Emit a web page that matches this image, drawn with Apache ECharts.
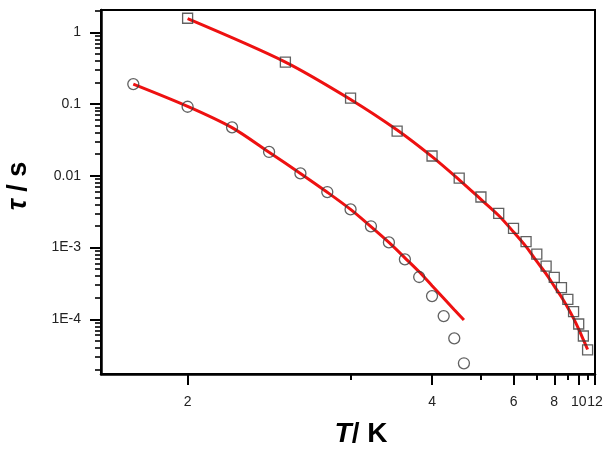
<!DOCTYPE html>
<html>
<head>
<meta charset="utf-8">
<script src="https://cdn.jsdelivr.net/npm/echarts@6/dist/echarts.min.js"></script>
<style>
html, body { margin: 0; padding: 0; background: #fff; }
#chart { width: 606px; height: 453px; }
</style>
</head>
<body>
<div id="chart"></div>
<script>
// 方块数据 (T / K, tau / s)
var squareT = [2, 2.5, 3, 3.5, 4, 4.5, 5, 5.5, 6, 6.5, 7, 7.5, 8, 8.5, 9, 9.5, 10, 10.5, 11];
var squareTau = [1.57, 0.385, 0.121, 0.042, 0.0189, 0.0093, 0.00507, 0.0030, 0.00185, 0.00121, 0.00081, 0.000553, 0.000385, 0.000276, 0.00019, 0.000128, 0.000086, 0.0000586, 0.0000374];
// 圆点数据
var circleT = [1.8, 2.0, 2.2, 2.4, 2.6, 2.8, 3.0, 3.2, 3.4, 3.6, 3.8, 4.0, 4.2, 4.4, 4.6];
var circleTau = [0.19, 0.0918, 0.0474, 0.0215, 0.0108, 0.00594, 0.00340, 0.00198, 0.00118, 0.000686, 0.000389, 0.000211, 0.000111, 0.0000543, 0.0000244];
// 拟合曲线
var fitSquareT = [2, 2.5, 3, 3.5, 4, 4.5, 5, 5.5, 6, 6.5, 7, 7.5, 8, 8.5, 9, 9.5, 10, 10.5, 11];
var fitSquareTau = [1.55, 0.385, 0.116, 0.0435, 0.0185, 0.0088, 0.0047, 0.0028, 0.00165, 0.00103, 0.00064, 0.00043, 0.00029, 0.000205, 0.000145, 0.000103, 0.000073, 0.000052, 0.000038];
var fitCircleT = [1.8, 2.0, 2.2, 2.4, 2.6, 2.8, 3.0, 3.2, 3.4, 3.6, 3.8, 4.0, 4.2, 4.4, 4.6];
var fitCircleTau = [0.19, 0.093, 0.047, 0.0213, 0.0108, 0.0059, 0.0034, 0.00196, 0.00118, 0.00072, 0.00046, 0.000294, 0.000197, 0.000136, 0.000098];

// 刻度
var xTicks = [2, 4, 6, 8, 10, 12];
var xMinorTicks = [3, 5, 7, 9, 11];
var yTicks = [1, 0.1, 0.01, 0.001, 0.0001];
var yTickLabels = ['1', '0.1', '0.01', '1E-3', '1E-4'];
var yMinorFactors = [2, 3, 4, 5, 6, 7, 8, 9];
var yMinorDecades = [0.00001, 0.0001, 0.001, 0.01, 0.1, 1];

// x 轴用 1/T, y 轴用 log10(tau)
var Tmin = 1.699, Tmax = 12;
var yLo = -4.762, yHi = 0.311;

function toXY(ts, vs) {
    return ts.map(function (t, i) { return [1 / t, Math.log10(vs[i])]; });
}
var yMinor = [];
yMinorDecades.forEach(function (d) {
    yMinorFactors.forEach(function (k) {
        var v = Math.log10(k * d);
        if (v >= yLo && v <= yHi) yMinor.push(v);
    });
});
var yMajor = yTicks.map(function (v) { return Math.round(Math.log10(v)); });

var font = 'Liberation Sans, Arial, sans-serif';

var myChart = echarts.init(document.getElementById('chart'));
var option = {
    backgroundColor: '#fff',
    animation: false,
    grid: {
        left: 101, right: 11, top: 10, bottom: 79,
        containLabel: false,
        outerBoundsMode: 'none',
        show: true, borderColor: '#000', borderWidth: 2
    },
    xAxis: [{
        type: 'value',
        inverse: true,
        min: 1 / Tmax, max: 1 / Tmin,
        position: 'bottom',
        splitLine: { show: false },
        axisLine: { onZero: false, lineStyle: { color: '#000', width: 2.5 } },
        axisTick: { inside: false, customValues: xTicks.map(function (t) { return 1 / t; }), length: 11, lineStyle: { color: '#000', width: 2 } },
        axisLabel: {
            customValues: xTicks.map(function (t) { return 1 / t; }),
            formatter: function (v) { return String(Math.round(1 / v)); },
            margin: 21, color: '#222', fontSize: 14, fontFamily: font
        },
        name: '{i|T}/ K',
        nameLocation: 'middle',
        nameGap: 46,
        nameTextStyle: {
            fontSize: 28, fontWeight: 'bold', color: '#000', fontFamily: font,
            padding: [0, 0, 0, 26],
            rich: { i: { fontSize: 28, fontWeight: 'bold', fontStyle: 'italic', color: '#000', fontFamily: font } }
        }
    }, {
        type: 'value',
        inverse: true,
        min: 1 / Tmax, max: 1 / Tmin,
        position: 'bottom',
        splitLine: { show: false },
        axisLine: { show: false, onZero: false },
        axisTick: { inside: false, customValues: xMinorTicks.map(function (t) { return 1 / t; }), length: 6, lineStyle: { color: '#000', width: 2 } },
        axisLabel: { show: false }
    }],
    yAxis: [{
        type: 'value',
        min: yLo, max: yHi,
        position: 'left',
        splitLine: { show: false },
        axisLine: { onZero: false, lineStyle: { color: '#000', width: 2.5 } },
        axisTick: { inside: false, customValues: yMajor, length: 11, lineStyle: { color: '#000', width: 2 } },
        axisLabel: {
            customValues: yMajor,
            formatter: function (v) {
                var i = yMajor.indexOf(Math.round(v));
                return yTickLabels[i];
            },
            margin: 20, color: '#222', fontSize: 14, fontFamily: font
        },
        name: '{i|τ} / s',
        nameLocation: 'middle',
        nameGap: 69,
        nameTextStyle: {
            fontSize: 27, fontWeight: 'bold', color: '#000', fontFamily: font,
            padding: [0, 0, 0, 12],
            rich: { i: { fontSize: 27, fontWeight: 'bold', fontStyle: 'italic', color: '#000', fontFamily: font } }
        }
    }, {
        type: 'value',
        min: yLo, max: yHi,
        position: 'left',
        splitLine: { show: false },
        axisLine: { show: false, onZero: false },
        axisTick: { inside: false, customValues: yMinor, length: 6, lineStyle: { color: '#000', width: 1.6 } },
        axisLabel: { show: false }
    }],
    series: [{
        type: 'line',
        data: toXY(fitSquareT, fitSquareTau),
        smooth: 0.3,
        showSymbol: false,
        lineStyle: { color: '#ee1111', width: 3 },
        z: 2
    }, {
        type: 'line',
        data: toXY(fitCircleT, fitCircleTau),
        smooth: 0.3,
        showSymbol: false,
        lineStyle: { color: '#ee1111', width: 3 },
        z: 2
    }, {
        type: 'scatter',
        data: toXY(squareT, squareTau),
        symbol: 'rect',
        symbolSize: 10,
        itemStyle: { color: 'transparent', borderColor: '#3a3a3a', borderWidth: 1.3 },
        z: 3
    }, {
        type: 'scatter',
        data: toXY(circleT, circleTau),
        symbol: 'circle',
        symbolSize: 11,
        itemStyle: { color: 'transparent', borderColor: '#3a3a3a', borderWidth: 1.3 },
        z: 3
    }]
};
myChart.setOption(option);
</script>
</body>
</html>
